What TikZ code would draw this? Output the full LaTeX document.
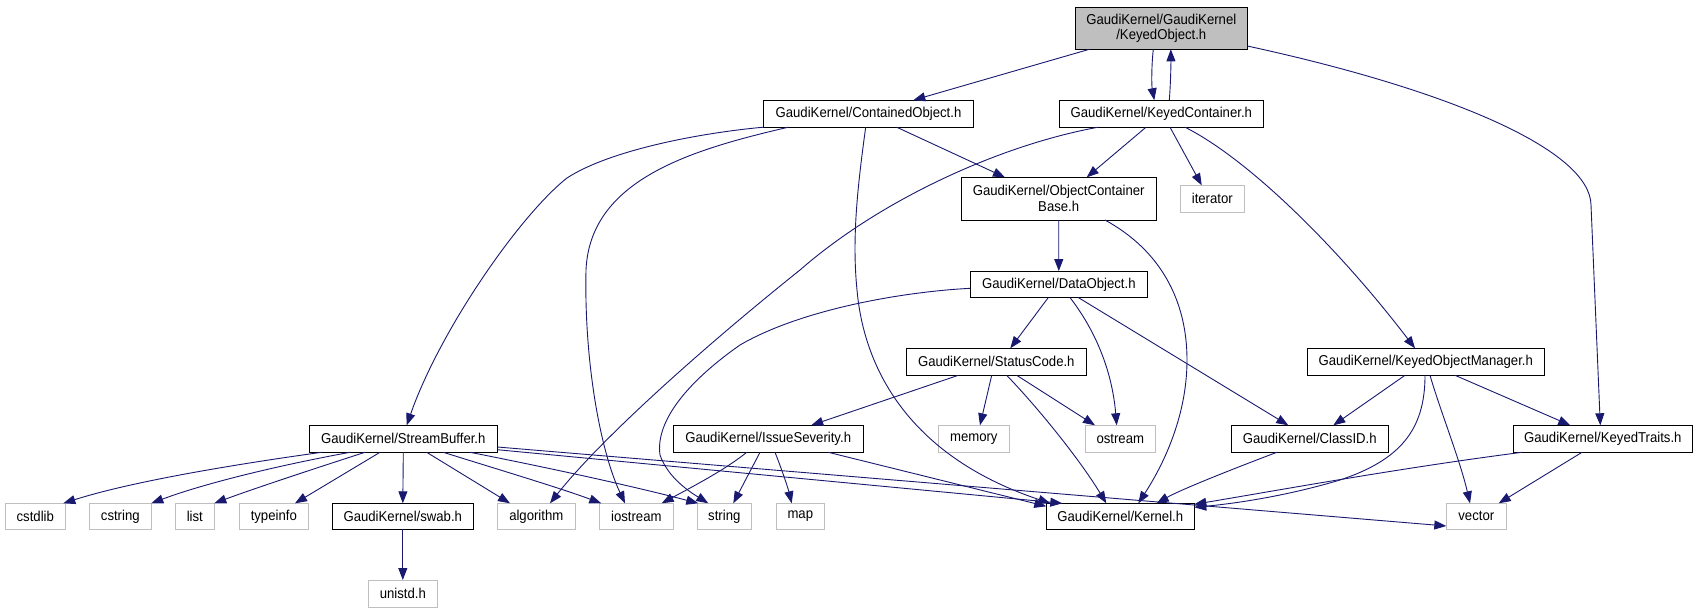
\documentclass[tikz,border=0pt]{standalone}
\usepackage{fontspec}
\newfontfamily\gfont[FakeStretch=0.92]{Liberation Sans}
\usetikzlibrary{arrows.meta}
\definecolor{edgecol}{HTML}{191970}
\definecolor{graybd}{HTML}{BFBFBF}
\definecolor{kofill}{HTML}{BFBFBF}
\begin{document}
\begin{tikzpicture}[x=1pt,y=-1pt,
  box/.style={draw=black, line width=1pt, fill=white, inner sep=0pt, outer sep=0pt,
    minimum height=27pt, font=\gfont\fontsize{14.3}{15.7}\selectfont, align=center},
  gbox/.style={box, draw=graybd},
  edge/.style={draw=edgecol, line width=0.9pt, -{Triangle[length=12pt,width=9pt]}}]
\fill[white] (0,0) rectangle (1697,613);
\useasboundingbox (0,0) rectangle (1697,613);

% nodes
\node[box, fill=kofill, minimum width=172pt, minimum height=42pt] (KO) at (1161.3,28.3) {GaudiKernel/GaudiKernel\\/KeyedObject.h};
\node[box, minimum width=210.4pt] (CO) at (868.5,113.7) {GaudiKernel/ContainedObject.h};
\node[box, minimum width=204pt] (KC) at (1161.3,113.7) {GaudiKernel/KeyedContainer.h};
\node[box, minimum width=195.3pt, minimum height=42.7pt] (OCB) at (1058.7,198.7) {GaudiKernel/ObjectContainer\\Base.h};
\node[gbox, minimum width=64pt] (IT) at (1212.3,198.8) {iterator};
\node[box, minimum width=177pt, minimum height=26.5pt] (DO) at (1058.8,284.3) {GaudiKernel/DataObject.h};
\node[box, minimum width=180pt] (SC) at (996.3,361.8) {GaudiKernel/StatusCode.h};
\node[box, minimum width=237pt] (KOM) at (1425.8,361.8) {GaudiKernel/KeyedObjectManager.h};
\node[box, minimum width=188pt] (SB) at (403.3,438.8) {GaudiKernel/StreamBuffer.h};
\node[box, minimum width=190.3pt] (IS) at (768.2,438.8) {GaudiKernel/IssueSeverity.h};
\node[gbox, minimum width=71pt] (MEM) at (973.8,438.8) {memory};
\node[gbox, minimum width=70pt] (OST) at (1120.3,438.8) {ostream};
\node[box, minimum width=157pt] (CID) at (1309.8,438.8) {GaudiKernel/ClassID.h};
\node[box, minimum width=179pt] (KT) at (1602.8,438.8) {GaudiKernel/KeyedTraits.h};
\node[gbox, minimum width=60pt, minimum height=26pt] (CSTDLIB) at (35.3,516.3) {cstdlib};
\node[gbox, minimum width=62pt, minimum height=26pt] (CSTRING) at (120.3,516.3) {cstring};
\node[gbox, minimum width=39pt, minimum height=26pt] (LIST) at (194.8,516.3) {list};
\node[gbox, minimum width=69pt, minimum height=26pt] (TYPEINFO) at (273.8,516.3) {typeinfo};
\node[box, minimum width=141pt, minimum height=26pt] (SWAB) at (402.8,516.3) {GaudiKernel/swab.h};
\node[gbox, minimum width=78pt, minimum height=26pt] (ALG) at (536.3,516.3) {algorithm};
\node[gbox, minimum width=74pt, minimum height=26pt] (IOS) at (636.3,516.3) {iostream};
\node[gbox, minimum width=54pt, minimum height=26pt] (STR) at (724.3,516.3) {string};
\node[gbox, minimum width=48pt, minimum height=26pt] (MAP) at (800.3,516.3) {map};
\node[box, minimum width=148pt, minimum height=26pt] (KER) at (1120.3,516.3) {GaudiKernel/Kernel.h};
\node[gbox, minimum width=60pt, minimum height=26pt] (VEC) at (1476.3,516.3) {vector};
\node[gbox, minimum width=69pt] (UNI) at (402.8,593.5) {unistd.h};

% edges from KeyedObject
\draw[edge] ([xshift=-72pt]KO.south) -- ([xshift=44.8pt]CO.north);
\draw[edge] ([xshift=-8pt]KO.south) .. controls (1151.5,65) and (1151.5,85) .. ([xshift=-7pt]KC.north);
\draw[edge] ([xshift=8pt]KC.north) .. controls (1170.5,85) and (1171,65) .. ([xshift=9.5pt]KO.south);
\draw[edge] ([yshift=-17.7pt]KO.east) .. controls (1450,90) and (1590,150) .. (1591,205) -- ([xshift=-2.5pt]KT.north);

% ContainedObject
\draw[edge] ([xshift=28.2pt]CO.south) -- ([xshift=-53.7pt]OCB.north);
\draw[edge] (CO.south west) .. controls (700,133) and (610,150) .. (567,178)
  .. controls (520,215) and (440,330) .. ([xshift=3.4pt]SB.north);
\draw[edge] ([xshift=-80.2pt]CO.south) .. controls (690,150) and (590,180) .. (586,270)
  .. controls (584,360) and (600,450) .. ([xshift=-11.3pt]IOS.north);
\draw[edge] ([xshift=-2.8pt]CO.south) .. controls (857,190) and (852,240) .. (857,290)
  .. controls (865,380) and (920,460) .. ([xshift=4pt]KER.north west);

% KeyedContainer
\draw[edge] ([xshift=-63pt]KC.south) .. controls (1000,145) and (880,200) .. (800,270)
  .. controls (700,350) and (600,440) .. ([xshift=13.7pt]ALG.north);
\draw[edge] ([xshift=-15.3pt]KC.south) -- ([xshift=28pt]OCB.north);
\draw[edge] ([xshift=8.7pt]KC.south) -- ([xshift=-10.6pt]IT.north);
\draw[edge] ([xshift=23.7pt]KC.south) .. controls (1250,160) and (1340,250) .. ([xshift=-10.8pt]KOM.north);

% ObjectContainerBase
\draw[edge] (OCB.south) -- (DO.north);
\draw[edge] ([xshift=46.3pt]OCB.south) .. controls (1160,250) and (1187,300) .. (1187,360)
  .. controls (1187,420) and (1160,470) .. ([xshift=18pt]KER.north);

% DataObject
\draw[edge] ([yshift=-4pt]DO.west) .. controls (900,292) and (800,310) .. (740,345)
  .. controls (690,380) and (655,420) .. (660,455)
  .. controls (668,478) and (690,492) .. ([xshift=-16pt]STR.north);
\draw[edge] ([xshift=-10.5pt]DO.south) -- ([xshift=14pt]SC.north);
\draw[edge] ([xshift=11.2pt]DO.south) .. controls (1095,330) and (1112,370) .. ([xshift=-3.6pt]OST.north);
\draw[edge] ([xshift=19.5pt]DO.south) -- ([xshift=-21.5pt]CID.north);

% StatusCode
\draw[edge] ([xshift=-38pt]SC.south) -- ([xshift=43pt]IS.north);
\draw[edge] ([xshift=-4.6pt]SC.south) -- ([xshift=6.2pt]MEM.north);
\draw[edge] ([xshift=20.4pt]SC.south) -- ([xshift=-25.3pt]OST.north);
\draw[edge] ([xshift=10.4pt]SC.south) .. controls (1040,410) and (1080,460) .. ([xshift=-14pt]KER.north);

% IssueSeverity
\draw[edge] ([xshift=-21.5pt]IS.south) .. controls (725,470) and (690,488) .. ([xshift=25.4pt]IOS.north);
\draw[edge] ([xshift=-8.2pt]IS.south) -- ([xshift=9pt]STR.north);
\draw[edge] ([xshift=6.8pt]IS.south) .. controls (782,470) and (788,488) .. ([xshift=-8.6pt]MAP.north);
\draw[edge] ([xshift=60.1pt]IS.south) -- ([yshift=-3pt]KER.north west);

% ClassID
\draw[edge] ([xshift=-33pt]CID.south) .. controls (1230,470) and (1180,490) .. ([xshift=36.4pt]KER.north);

% KeyedObjectManager
\draw[edge] ([xshift=-20.8pt]KOM.south) -- ([xshift=23.5pt]CID.north);
\draw[edge] ([xshift=-0.8pt]KOM.south) .. controls (1425,430) and (1400,460) .. (1340,480)
  .. controls (1290,495) and (1240,503) .. ([yshift=-4pt]KER.north east);
\draw[edge] ([xshift=4.2pt]KOM.south) .. controls (1440,410) and (1460,460) .. ([xshift=-6.3pt]VEC.north);
\draw[edge] ([xshift=29.2pt]KOM.south) -- ([xshift=-32.5pt]KT.north);

% KeyedTraits
\draw[edge] ([xshift=-80.8pt]KT.south) .. controls (1400,468) and (1280,490) .. ([yshift=-1pt]KER.north east);
\draw[edge] ([xshift=-20.8pt]KT.south) -- ([xshift=22.4pt]VEC.north);

% StreamBuffer
\draw[edge] ([xshift=-81.6pt]SB.south) .. controls (230,465) and (130,482) .. ([xshift=-2pt]CSTDLIB.north east);
\draw[edge] ([xshift=-53.3pt]SB.south) .. controls (270,467) and (200,485) .. (CSTRING.north east);
\draw[edge] ([xshift=-38.3pt]SB.south) .. controls (310,470) and (250,490) .. (LIST.north east);
\draw[edge] ([xshift=-23.3pt]SB.south) -- ([xshift=21.2pt]TYPEINFO.north);
\draw[edge] (SB.south) -- (SWAB.north);
\draw[edge] ([xshift=23.4pt]SB.south) -- ([xshift=-26.3pt]ALG.north);
\draw[edge] ([xshift=40pt]SB.south) .. controls (500,470) and (560,488) .. ([xshift=2pt]IOS.north west);
\draw[edge] ([xshift=66.7pt]SB.south) .. controls (560,470) and (640,488) .. ([xshift=1pt]STR.north west);
\draw[edge] ([yshift=-10.9pt]SB.east) -- ([xshift=16pt]KER.north west);
\draw[edge] ([yshift=-8.2pt]SB.east) -- ([yshift=-9.7pt]VEC.west);

% swab
\draw[edge] (SWAB.south) -- (UNI.north);
\end{tikzpicture}
\end{document}
